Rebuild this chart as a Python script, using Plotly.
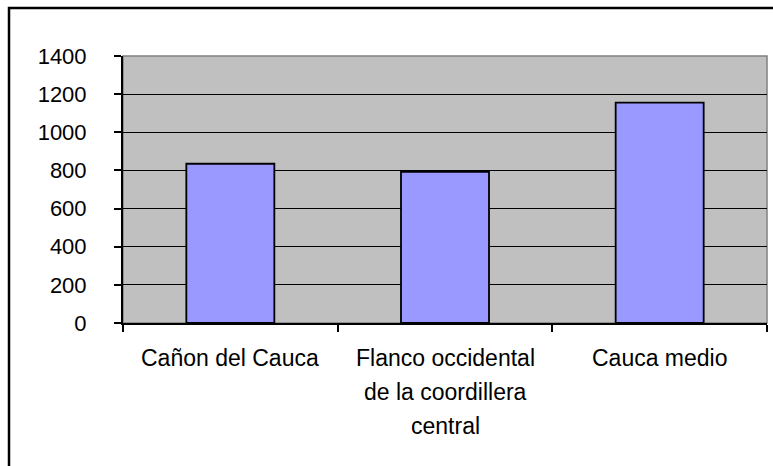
import plotly.graph_objects as go

# Zonas y valores de la gráfica
categorias = ["Cañon del Cauca", "Flanco occidental de la coordillera central", "Cauca medio"]
etiquetas = [["Cañon del Cauca"], ["Flanco occidental", "de la coordillera", "central"], ["Cauca medio"]]
valores = [835, 792, 1155]
marcas_y = [0, 200, 400, 600, 800, 1000, 1200, 1400]

FONT = "Liberation Sans, Arial, sans-serif"

fig = go.Figure(
    go.Bar(
        x=categorias,
        y=valores,
        marker=dict(color="#9999FF", line=dict(color="black", width=1.8)),
        width=0.41,
        hoverinfo="x+y",
    )
)

# Etiquetas de categoría, una línea por anotación para controlar el interlineado
anotaciones = []
for cat, lineas in zip(categorias, etiquetas):
    for i, linea in enumerate(lineas):
        anotaciones.append(
            dict(
                x=cat, xref="x", y=0, yref="y",
                text=linea, showarrow=False,
                xanchor="center", yanchor="middle",
                yshift=-35 - 34 * i,
                font=dict(family=FONT, size=23, color="black"),
            )
        )

fig.update_layout(
    width=773,
    height=466,
    margin=dict(l=123, r=6, t=56, b=143),
    paper_bgcolor="white",
    plot_bgcolor="#C0C0C0",
    showlegend=False,
    font=dict(family=FONT, size=22, color="black"),
    annotations=anotaciones,
    xaxis=dict(
        type="category",
        showticklabels=False,
        ticks="outside",
        tickson="boundaries",
        ticklen=7,
        tickcolor="black",
        tickwidth=1.5,
        showline=True,
        linecolor="black",
        linewidth=2,
        showgrid=False,
        zeroline=False,
    ),
    yaxis=dict(
        range=[0, 1400],
        tickvals=marcas_y,
        ticks="outside",
        ticklen=7,
        tickcolor="black",
        tickwidth=1.5,
        ticklabelstandoff=23,
        showline=True,
        linecolor="black",
        linewidth=2,
        showgrid=True,
        gridcolor="black",
        gridwidth=1.2,
        zeroline=False,
        tickfont=dict(family=FONT, size=22, color="black"),
    ),
    shapes=[
        # borde gris del área de trazado
        dict(type="rect", xref="paper", yref="paper", x0=0, x1=1, y0=0, y1=1,
             line=dict(color="#808080", width=1.5), layer="below"),
        # marco exterior del gráfico
        dict(type="rect", xref="paper", yref="paper",
             x0=-0.177, x1=1.2, y0=-0.8, y1=1.18,
             line=dict(color="black", width=2.5)),
    ],
)

fig.write_html("out.html")
